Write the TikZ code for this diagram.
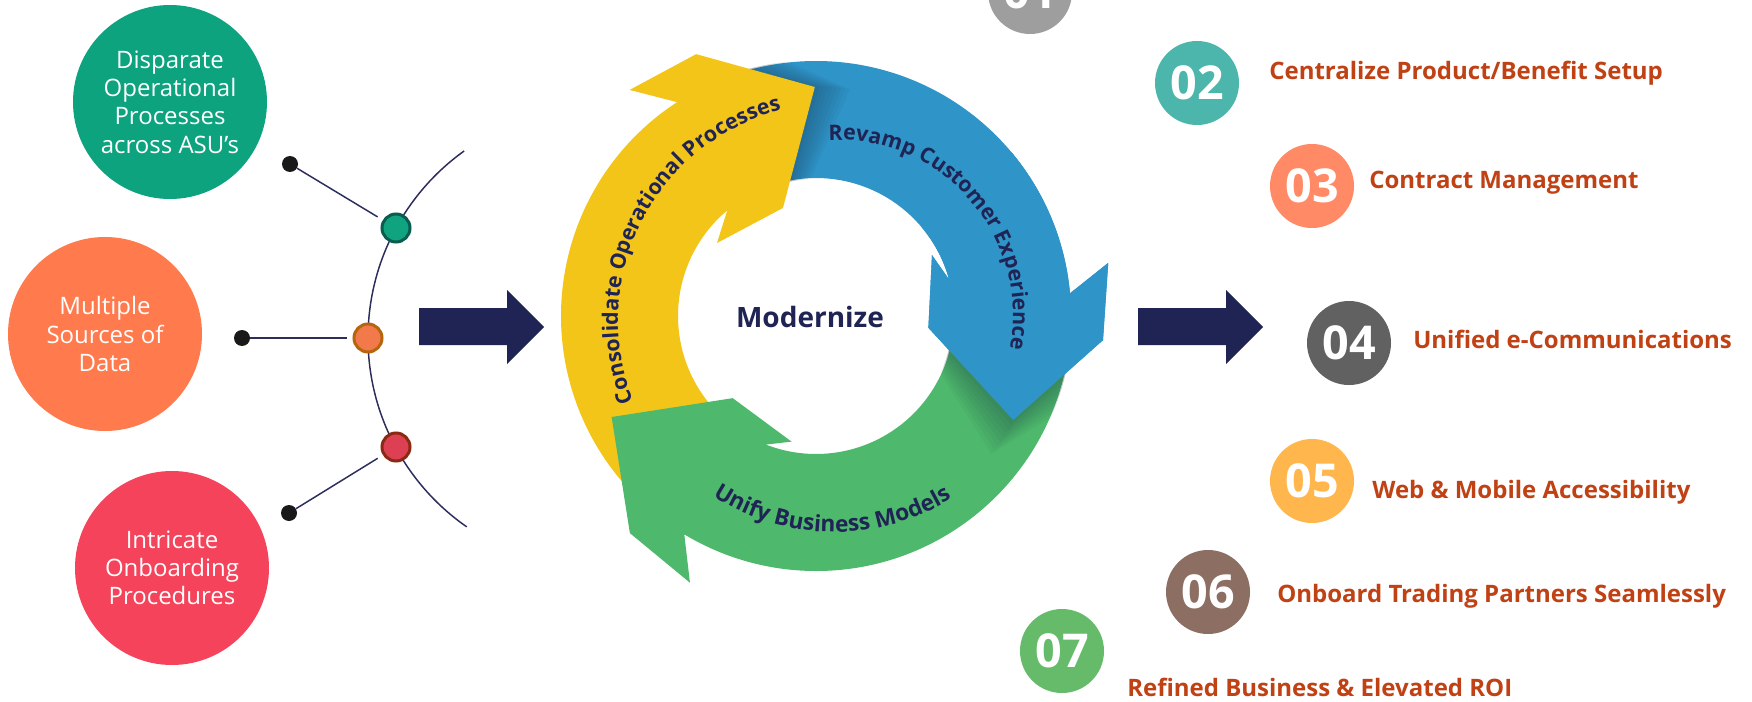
\documentclass[tikz,border=0pt]{standalone}
\usepackage{fontspec}
\setmainfont{Open Sans}
\usetikzlibrary{decorations.text}
\definecolor{navy}{RGB}{31,36,84}
\definecolor{linec}{RGB}{43,45,91}
\definecolor{tealc}{RGB}{13,163,127}
\definecolor{orangec}{RGB}{255,122,77}
\definecolor{redc}{RGB}{244,67,90}
\definecolor{steal}{RGB}{15,163,127}
\definecolor{stealb}{RGB}{10,92,78}
\definecolor{sorange}{RGB}{242,122,74}
\definecolor{sorangeb}{RGB}{181,101,14}
\definecolor{sred}{RGB}{220,64,82}
\definecolor{sredb}{RGB}{139,42,20}
\definecolor{dotc}{RGB}{25,25,25}
\definecolor{ycol}{RGB}{243,197,24}
\definecolor{bcol}{RGB}{47,148,199}
\definecolor{gcol}{RGB}{78,185,108}
\definecolor{shadowc}{RGB}{20,40,60}
\definecolor{c01}{RGB}{158,158,158}
\definecolor{c02}{RGB}{77,182,172}
\definecolor{c03}{RGB}{255,138,101}
\definecolor{c04}{RGB}{97,97,97}
\definecolor{c05}{RGB}{255,183,77}
\definecolor{c06}{RGB}{141,110,99}
\definecolor{c07}{RGB}{102,187,106}
\definecolor{labc}{RGB}{192,65,20}
\newcommand\cycfont{\bfseries\fontsize{16}{19}\selectfont}
\newcommand\cycfontg{\bfseries\fontsize{17}{20}\selectfont}
\tikzset{
  bigc/.style={circle, minimum size=145.5pt, inner sep=0pt, text=white, align=center,
    font=\fontsize{18}{21.2}\selectfont},
  smallc/.style={circle, minimum size=21pt, inner sep=0pt, line width=2.25pt},
  blackdot/.style={circle, minimum size=12pt, inner sep=0pt, fill=dotc},
  link/.style={draw=linec, line width=1.1pt, shorten >=4.5pt},
  numc/.style={circle, minimum size=63pt, inner sep=0pt, text=white,
    font=\bfseries\fontsize{35}{35}\selectfont},
  lab/.style={anchor=base west, inner sep=0pt, text=labc,
    font=\bfseries\fontsize{18}{18}\selectfont},
  bigarrow/.style={fill=navy},
  softshadow/.style={fill=shadowc, fill opacity=0.045},
}
\begin{document}
\begin{tikzpicture}[x=0.75pt,y=0.75pt]
\useasboundingbox (0,0) rectangle (1752,701);
\clip (0,0) rectangle (1752,701);
\fill[white] (0,0) rectangle (1752,701);

% ---------- left side ----------
\draw[linec, line width=1.1pt] (598,363) ++(125.6:230) arc[start angle=125.6, end angle=235.2, radius=230];
\node[bigc, fill=tealc] (c1) at (170,599) {Disparate\\Operational\\Processes\\across ASU’s};
\node[bigc, fill=orangec] (c2) at (105,367) {Multiple\\Sources of\\Data};
\node[bigc, fill=redc] (c3) at (172,133) {Intricate\\Onboarding\\Procedures};

\node[blackdot] (d1) at (290,537) {};
\node[blackdot] (d2) at (242,363) {};
\node[blackdot] (d3) at (289,188) {};
\node[smallc, fill=steal, draw=stealb] (s1) at (396,473) {};
\node[smallc, fill=sorange, draw=sorangeb] (s2) at (368,363) {};
\node[smallc, fill=sred, draw=sredb] (s3) at (396,254) {};
\draw[link] (d1) -- (s1);
\draw[link] (d2) -- (s2);
\draw[link] (d3) -- (s3);

% ---------- big arrows ----------
\fill[bigarrow] (419,356) -- (507,356) -- (507,337) -- (544,374) -- (507,411) -- (507,393) -- (419,393) -- cycle;
\fill[bigarrow] (1138,356) -- (1226,356) -- (1226,337) -- (1263,374) -- (1226,411) -- (1226,393) -- (1138,393) -- cycle;

% ---------- cycle ----------
\begin{scope}[shift={(816,385)}]
  % blue
  \fill[bcol] (111:255) arc[start angle=111, end angle=5.1, radius=255]
    -- (10.3:297) -- (-4.8:288) -- (-27.8:223) -- (-6:113) -- (27.7:131) -- (15.3:138)
    arc[start angle=15.3, end angle=111, radius=138] -- cycle;
  % shadow of the yellow head on the blue tail
  \begin{scope}
    \clip (111:256) arc[start angle=111, end angle=40, radius=256] -- (40:137)
      arc[start angle=40, end angle=111, radius=137] -- cycle;
    \foreach \k in {1,...,8}{
      \fill[softshadow, rotate=-1.1*\k] (123:255) -- (129.5:293) -- (114.6:288) -- (90.3:229)
        -- (107:113) -- (143.6:123) -- (130:138) -- cycle;
    }
  \end{scope}
  % yellow
  \fill[ycol] (226:255) arc[start angle=226, end angle=123, radius=255]
    -- (129.5:293) -- (114.6:288) -- (90.3:229) -- (107:113) -- (143.6:123) -- (130:138)
    arc[start angle=130, end angle=226, radius=138] -- cycle;
  % green
  \fill[gcol] (358:255) arc[start angle=358, end angle=238.9, radius=255]
    -- (244.7:295) -- (229.4:286) -- (206.3:228) -- (224.6:117) -- (259:128) -- (248.7:138)
    arc[start angle=248.7, end angle=358, radius=138] -- cycle;
  % shadow of the blue head on the green tail
  \begin{scope}
    \clip (358:256) arc[start angle=358, end angle=285, radius=256] -- (285:137)
      arc[start angle=285, end angle=358, radius=137] -- cycle;
    \foreach \k in {1,...,8}{
      \fill[softshadow, rotate=-1.3*\k] (5.1:255) -- (10.3:297) -- (-4.8:288) -- (-27.8:223)
        -- (-6:113) -- (27.7:131) -- (15.3:138) -- cycle;
    }
  \end{scope}
  % blue head again (over green tail)
  \fill[bcol] (5.1:255) -- (10.3:297) -- (-4.8:288) -- (-27.8:223) -- (-6:113) -- (27.7:131) -- (15.3:138)
    arc[start angle=15.3, end angle=40, radius=138] -- (40:255)
    arc[start angle=40, end angle=5.1, radius=255] -- cycle;
\end{scope}

\path[decorate, decoration={text along path, text align=center, text color=navy,
   text={|\cycfont|Consolidate Operational Processes}}]
   (836,380) ++(232:218) arc[start angle=232, end angle=74, radius=218];
\path[decorate, decoration={text along path, text align=center, text color=navy,
   text={|\cycfont|Revamp Customer Experience}}]
   (838,386) ++(120:175) arc[start angle=120, end angle=-38, radius=175];
\path[decorate, decoration={text along path, text align=center, text color=navy,
   text={|\cycfontg|Unify Business Models}}]
   (834,392) ++(215:223) arc[start angle=215, end angle=324, radius=223];

\node[text=navy, font=\bfseries\fontsize{21}{21}\selectfont] (mod) at (810,384) {Modernize};

% ---------- right side ----------
\node[numc, fill=c01] (n1) at (1030,709) {01};
\node[numc, fill=c02] (n2) at (1197,618) {02};
\node[numc, fill=c03] (n3) at (1312,515) {03};
\node[numc, fill=c04] (n4) at (1349,358) {04};
\node[numc, fill=c05] (n5) at (1312,220) {05};
\node[numc, fill=c06] (n6) at (1208,109) {06};
\node[numc, fill=c07] (n7) at (1062,50) {07};

\node[lab] (l2) at (1269,621) {Centralize Product/Benefit Setup};
\node[lab] (l3) at (1369,512) {Contract Management};
\node[lab] (l4) at (1413,353) {Unified e-Communications};
\node[lab] (l5) at (1372,203) {Web \& Mobile Accessibility};
\node[lab] (l6) at (1277,99) {Onboard Trading Partners Seamlessly};
\node[lab] (l7) at (1127,5) {Refined Business \& Elevated ROI};
\end{tikzpicture}
\end{document}
